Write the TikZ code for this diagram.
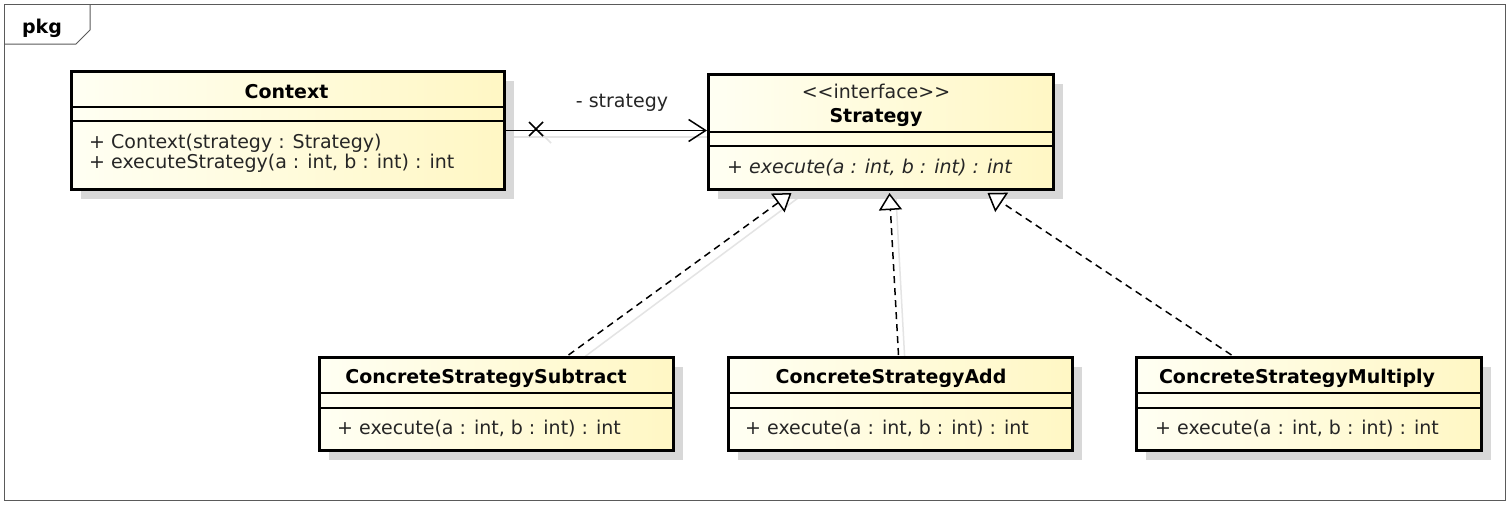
\documentclass[tikz,border=0pt]{standalone}
\usepackage{fontspec}
\setmainfont{DejaVu Sans}
\usetikzlibrary{arrows.meta,shadows,calc}
\definecolor{ylwA}{RGB}{255,255,243}
\definecolor{ylwB}{RGB}{255,247,196}
\definecolor{shd}{RGB}{216,216,216}
\definecolor{lshd}{RGB}{228,228,228}
\definecolor{frm}{RGB}{90,90,90}
\tikzset{
  umlbox/.style={draw=black, line width=3pt, left color=ylwA, right color=ylwB,
    drop shadow={shadow xshift=9pt, shadow yshift=-9pt, fill=shd, opacity=1},
    inner sep=0pt, anchor=north west},
  sepline/.style={draw=black, line width=1.3pt},
  txt/.style={font=\fontsize{19}{22}\selectfont, inner sep=0pt, text=black!85},
  btxt/.style={font=\fontsize{19}{22}\selectfont\bfseries, inner sep=0pt, text=black},
  itxt/.style={font=\fontsize{19}{22}\selectfont\itshape, inner sep=0pt, text=black!85},
  assoc/.style={line width=1.5pt, -{Straight Barb[length=17pt,width=22pt,line width=1.5pt]}},
  realize/.style={line width=1.5pt, dash pattern=on 7pt off 5pt,
    -{Triangle[fill=white,length=17pt,width=23pt,line width=1.5pt]}},
  cshadow/.style={draw=lshd, line width=1.5pt},
}
\begin{document}
\begin{tikzpicture}[x=1pt,y=-1pt]
\useasboundingbox (0,0) rectangle (1512,507);
\fill[white] (0,0) rectangle (1512,507);
% frame
\draw[frm, line width=1pt] (4,4) rectangle (1505,500);
\draw[frm, line width=1pt] (4,44) -- (76,44) -- (90,30) -- (90,4);
\node[btxt, anchor=base] (pkg) at (42,33) {pkg};

% connector shadows
\draw[cshadow] (511,137) -- (713,137);
\draw[cshadow] (539,131) -- (551,143);
\draw[cshadow] (575,364) -- (798,198);
\draw[cshadow] (905,364) -- (896,198);

% boxes
\node[umlbox, minimum width=433pt, minimum height=118pt] (ctx) at (70,70) {};
\node[umlbox, minimum width=345pt, minimum height=115pt] (str) at (707,73) {};
\node[umlbox, minimum width=354pt, minimum height=93pt] (sub) at (318,356) {};
\node[umlbox, minimum width=344pt, minimum height=93pt] (add) at (727,356) {};
\node[umlbox, minimum width=345pt, minimum height=93pt] (mul) at (1135,356) {};

% separators
\draw[sepline] (ctx.west |- 0,107) -- (ctx.east |- 0,107);
\draw[sepline] (ctx.west |- 0,121) -- (ctx.east |- 0,121);
\draw[sepline] (str.west |- 0,132) -- (str.east |- 0,132);
\draw[sepline] (str.west |- 0,146) -- (str.east |- 0,146);
\foreach \b in {sub,add,mul}{
  \draw[sepline] (\b.west |- 0,393) -- (\b.east |- 0,393);
  \draw[sepline] (\b.west |- 0,408) -- (\b.east |- 0,408);
}

% texts
\node[btxt, anchor=base] (ctxname) at (286.5,98) {Context};
\node[txt, anchor=base west] (ctxop1) at (89,148) {+ Context(strategy : Strategy)};
\node[txt, anchor=base west] (ctxop2) at (89,168) {+ executeStrategy(a : int, b : int) : int};

\node[txt, anchor=base] (stster) at (876,98) {<{}<interface>{}>};
\node[btxt, anchor=base] (strname) at (876,122) {Strategy};
\node[itxt, anchor=base west] (strop) at (727,173) {+ execute(a : int, b : int) : int};

\node[btxt, anchor=base] (subname) at (486,383) {ConcreteStrategySubtract};
\node[txt, anchor=base west] (subop) at (337,434) {+ execute(a : int, b : int) : int};
\node[btxt, anchor=base] (addname) at (891,383) {ConcreteStrategyAdd};
\node[txt, anchor=base west] (addop) at (745,434) {+ execute(a : int, b : int) : int};
\node[btxt, anchor=base] (mulname) at (1297,383) {ConcreteStrategyMultiply};
\node[txt, anchor=base west] (mulop) at (1155,434) {+ execute(a : int, b : int) : int};

% association
\draw[assoc] (ctx.east) -- (str.west |- ctx.east);
\coordinate (xm) at (536,129);
\draw[line width=1.5pt] ($(xm)+(-7,-7)$) -- ($(xm)+(7,7)$);
\draw[line width=1.5pt] ($(xm)+(-7,7)$) -- ($(xm)+(7,-7)$);
\node[txt, anchor=base] (rolelbl) at (622,107) {- strategy};

% realizations
\draw[realize] ($(sub.north)+(72,-1)$) -- ($(str.south)+(-89.5,2)$);
\draw[realize] ($(add.north)+(-2,-1)$) -- ($(str.south)+(8.5,2)$);
\draw[realize] ($(mul.north)+(-77.5,-1)$) -- ($(str.south)+(106.5,2)$);
\end{tikzpicture}
\end{document}
